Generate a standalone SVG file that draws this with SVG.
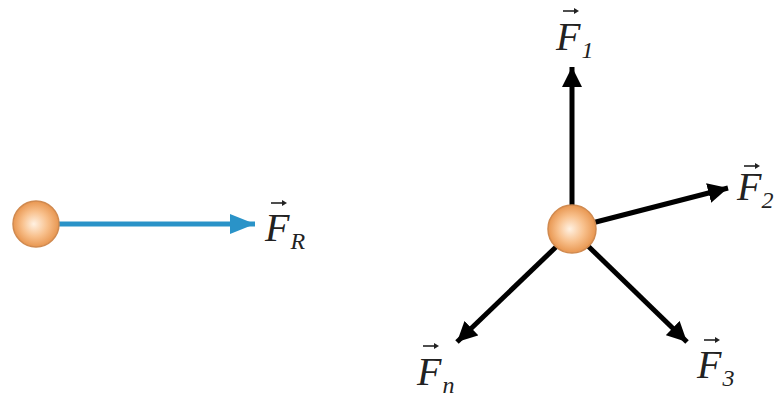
<svg xmlns="http://www.w3.org/2000/svg" width="777" height="398" viewBox="0 0 777 398">
<defs>
<radialGradient id="ball" cx="0.5" cy="0.5" r="0.5" fx="0.45" fy="0.5">
<stop offset="0" stop-color="#fff1e2"/>
<stop offset="0.55" stop-color="#f8c08c"/>
<stop offset="1" stop-color="#e89650"/>
</radialGradient>
<marker id="ahK" markerWidth="4" markerHeight="4" refX="4" refY="2" orient="auto" markerUnits="strokeWidth">
<path d="M0,0 L4,2 L0,4 Z" fill="#000"/>
</marker>
<marker id="ahB" markerWidth="5" markerHeight="4" refX="5" refY="2" orient="auto" markerUnits="strokeWidth">
<path d="M0,0 L5,2 L0,4 Z" fill="#2a93c8"/>
</marker>
<g id="vec">
<path d="M0,0 H14" stroke="#222" stroke-width="1.6" fill="none"/>
<path d="M11,-3 L16,0 L11,3 Z" fill="#222"/>
</g>
</defs>
<style>
.ball{fill:url(#ball);stroke:#d08a50;stroke-width:1.5}
.fk{stroke:#000;stroke-width:5;fill:none;marker-end:url(#ahK)}
.fb{stroke:#2a93c8;stroke-width:5;fill:none;marker-end:url(#ahB)}
.lbl{font-family:"Liberation Serif","DejaVu Serif",serif;font-style:italic;font-size:40px;fill:#222}
.sub{font-size:24px}
</style>
<rect width="777" height="398" fill="#fff"/>
<g id="connectors">
<line class="fb" x1="58" y1="224" x2="255" y2="224"/>
<line class="fk" x1="572" y1="206" x2="572" y2="67"/>
<line class="fk" x1="592" y1="223" x2="728" y2="188"/>
<line class="fk" x1="557" y1="246" x2="457" y2="342"/>
<line class="fk" x1="588" y1="246" x2="687" y2="342"/>
</g>
<g id="ball-left"><circle class="ball" cx="36" cy="224" r="23"/></g>
<g id="ball-right"><circle class="ball" cx="572" cy="229" r="24"/></g>
<g id="label-FR"><use href="#vec" x="271" y="203"/><text class="lbl" x="265" y="241">F<tspan class="sub" dx="1" dy="8">R</tspan></text></g>
<g id="label-F1"><use href="#vec" x="563" y="11"/><text class="lbl" x="556" y="50">F<tspan class="sub" dx="1" dy="8">1</tspan></text></g>
<g id="label-F2"><use href="#vec" x="744" y="166"/><text class="lbl" x="737" y="200">F<tspan class="sub" dx="0" dy="8" font-size="20">2</tspan></text></g>
<g id="label-Fn"><use href="#vec" x="423" y="346"/><text class="lbl" x="417" y="385">F<tspan class="sub" dx="1" dy="8">n</tspan></text></g>
<g id="label-F3"><use href="#vec" x="704" y="340"/><text class="lbl" x="697" y="378">F<tspan class="sub" dx="1" dy="8">3</tspan></text></g>
</svg>
